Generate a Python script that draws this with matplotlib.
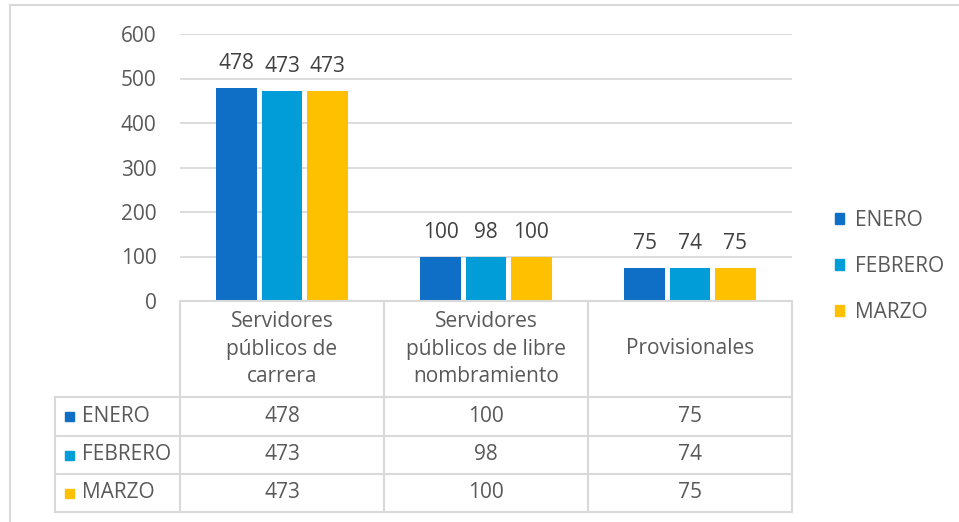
import numpy as np
import matplotlib.pyplot as plt
from matplotlib.patches import Rectangle

# data
categorias = ["Servidores\npúblicos de\ncarrera",
              "Servidores\npúblicos de libre\nnombramiento",
              "Provisionales"]
meses = ["ENERO", "FEBRERO", "MARZO"]
enero = [478, 100, 75]
febrero = [473, 98, 74]
marzo = [473, 100, 75]
colores = ["#0F6FC6", "#009DD9", "#FFC000"]
yticks = [0, 100, 200, 300, 400, 500, 600]

plt.rcParams['font.family'] = ['Open Sans', 'DejaVu Sans']
GRIS = "#595959"
BORDE = "#D9D9D9"
FS = 15

W, H = 959, 522
fig = plt.figure(figsize=(W / 100, H / 100), dpi=100)


# pixel helpers
def fx(px):
    return px / W


def fy(py):
    return 1 - py / H


x0, x1 = 180, 792
y_top, y_bot = 34, 301
ax = fig.add_axes([fx(x0), fy(y_bot), fx(x1) - fx(x0), fy(y_top) - fy(y_bot)])

series = [enero, febrero, marzo]
x = np.arange(len(categorias))
ancho = 0.2
paso = 0.222
for j, (vals, col) in enumerate(zip(series, colores)):
    pos = x + (j - 1) * paso
    bars = ax.bar(pos, vals, ancho, color=col, zorder=3)
    for b, v in zip(bars, vals):
        ax.text(b.get_x() + b.get_width() / 2, v + 55, str(v), ha='center', va='center',
                fontsize=FS, color="#404040")

ax.set_xlim(-0.5, 2.5)
ax.set_ylim(0, 600)
ax.set_yticks(yticks)
ax.set_yticklabels([str(t) for t in yticks], fontsize=FS, color=GRIS)
ax.tick_params(axis='y', length=0, pad=17)
ax.set_xticks([])
for s in ax.spines.values():
    s.set_visible(False)
ax.grid(axis='y', color=BORDE, linewidth=1.3, zorder=0)
ax.set_axisbelow(True)

# overlay in pixel coordinates for frame
ov = fig.add_axes([0, 0, 1, 1], zorder=-1)
ov.set_xlim(0, W)
ov.set_ylim(H, 0)
ov.axis('off')
ov.plot([10, 10], [5, H], color=BORDE, lw=1.5)
ov.plot([10, W], [5, 5], color=BORDE, lw=1.5)

# data table under the chart
tab = fig.add_axes([0, 0, 1, 1])
tab.set_xlim(0, W)
tab.set_ylim(H, 0)
tab.axis('off')
tab.patch.set_alpha(0)

col_x = [180, 384, 588, 792]
row_y = [301, 397, 436, 474, 512]
lw = 1.5
tab.plot([180, 792], [301, 301], color=BORDE, lw=lw)
for yy in row_y[1:]:
    tab.plot([55, 792], [yy, yy], color=BORDE, lw=lw)
for xx in col_x:
    tab.plot([xx, xx], [301, 512], color=BORDE, lw=lw)
tab.plot([55, 55], [397, 512], color=BORDE, lw=lw)

for i, cat in enumerate(categorias):
    cx = (col_x[i] + col_x[i + 1]) / 2
    tab.text(cx, (row_y[0] + row_y[1]) / 2, cat, ha='center', va='center',
             fontsize=FS, color=GRIS, linespacing=1.38)

for r, (mes, vals, col) in enumerate(zip(meses, series, colores)):
    cy = (row_y[r + 1] + row_y[r + 2]) / 2
    tab.add_patch(Rectangle((65, cy - 4.5), 9, 9, color=col))
    tab.text(82, cy, mes, ha='left', va='center', fontsize=FS, color=GRIS)
    for i, v in enumerate(vals):
        cx = (col_x[i] + col_x[i + 1]) / 2
        tab.text(cx, cy, str(v), ha='center', va='center', fontsize=FS, color=GRIS)

# legend
handles = [Rectangle((0, 0), 1, 1, color=c) for c in colores]
leg = fig.legend(handles, meses, loc='upper left', bbox_to_anchor=(fx(835), fy(210)),
                 frameon=False, fontsize=FS, labelcolor=GRIS, handlelength=0.45,
                 handleheight=0.45, handletextpad=0.5, labelspacing=1.2,
                 borderaxespad=0, borderpad=0)

fig.savefig("out.png", dpi=100)
